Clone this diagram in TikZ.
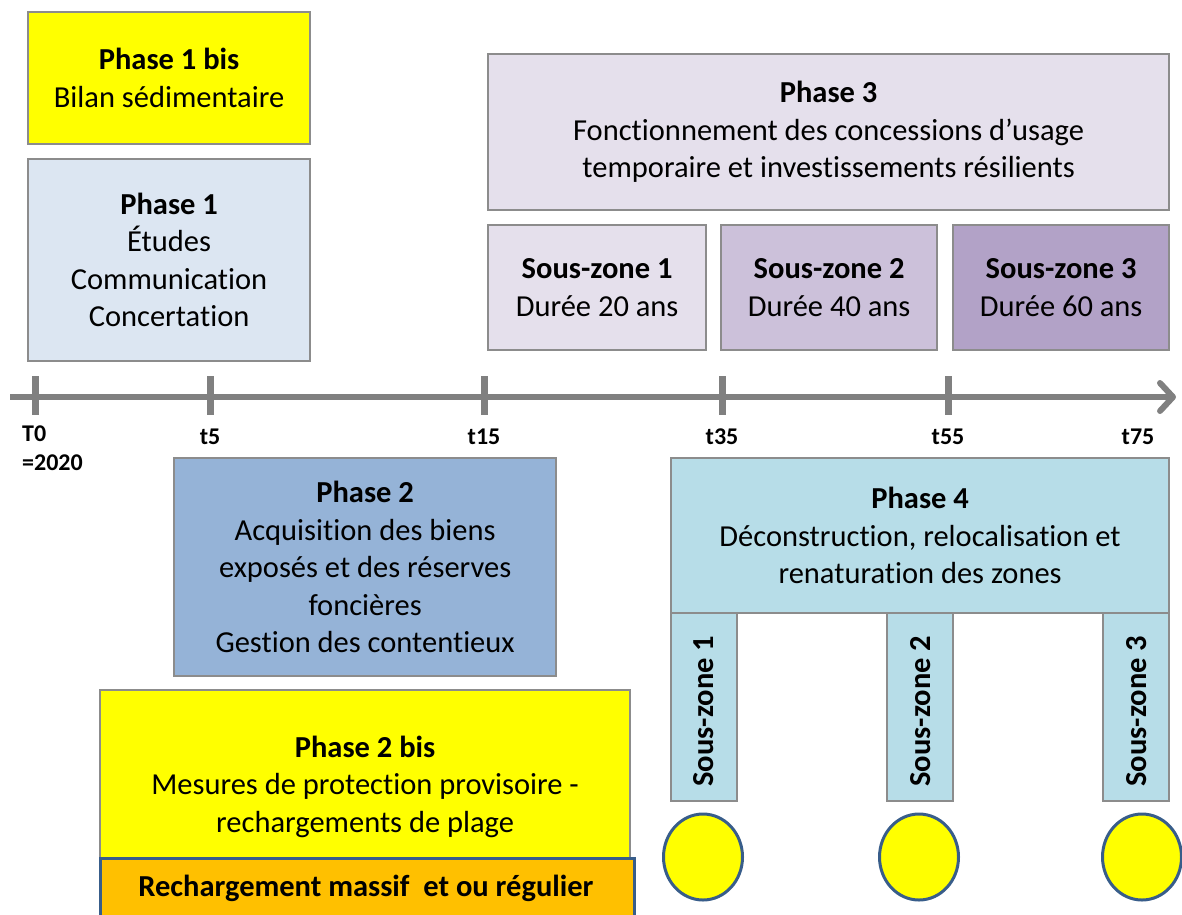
\documentclass[tikz,border=0pt]{standalone}
\usepackage{fontspec}
\setmainfont{Carlito}[Ligatures={NoCommon}]
\usetikzlibrary{arrows.meta,shapes.geometric}
\definecolor{bordergray}{RGB}{140,140,140}
\definecolor{axisgray}{RGB}{128,128,128}
\definecolor{yel}{RGB}{255,255,0}
\definecolor{pone}{RGB}{220,230,242}
\definecolor{ptwo}{RGB}{149,179,215}
\definecolor{pthreea}{RGB}{229,224,236}
\definecolor{pthreeb}{RGB}{204,193,218}
\definecolor{pthreec}{RGB}{178,162,199}
\definecolor{pfour}{RGB}{183,221,232}
\definecolor{orangebox}{RGB}{255,192,0}
\definecolor{darkblue}{RGB}{56,93,138}
\begin{document}
\begin{tikzpicture}[x=1pt,y=-1pt,
  box/.style={draw=bordergray,line width=2.2pt,anchor=north west,inner sep=0pt,align=center,
    font=\fontsize{30.5}{37.5}\selectfont},
  tick/.style={line width=7pt,draw=axisgray},
  ticklabel/.style={font=\fontsize{24}{29}\selectfont\bfseries,inner sep=0pt},
  ell/.style={ellipse,draw=darkblue,line width=3pt,fill=yel,minimum width=79pt,minimum height=86pt,inner sep=0pt}]
\useasboundingbox (0,0) rectangle (1182,914);
% top-left boxes
\node[box,fill=yel,minimum width=282pt,minimum height=132pt] (p1b) at (27,11)
  {\textbf{Phase 1 bis}\\Bilan sédimentaire};
\node[box,fill=pone,minimum width=282pt,minimum height=202pt] (p1) at (27,158)
  {\textbf{Phase 1}\\Études\\Communication\\Concertation};
% phase 3
\node[box,fill=pthreea,minimum width=681pt,minimum height=156pt] (p3) at (487,53)
  {\textbf{Phase 3}\\Fonctionnement des concessions d’usage\\temporaire et investissements résilients};
\node[box,fill=pthreea,minimum width=218pt,minimum height=125pt] (sz1) at (487,224)
  {\textbf{Sous-zone 1}\\Durée 20 ans};
\node[box,fill=pthreeb,minimum width=216pt,minimum height=125pt] (sz2) at (720,224)
  {\textbf{Sous-zone 2}\\Durée 40 ans};
\node[box,fill=pthreec,minimum width=216pt,minimum height=125pt] (sz3) at (952,224)
  {\textbf{Sous-zone 3}\\Durée 60 ans};
% timeline
\coordinate (a0) at (10,397);
\coordinate (a1) at (1176,397);
\draw[line width=6pt,draw=axisgray,-{Straight Barb[length=13pt,width=28pt,line cap=round,line join=round]}] (a0) -- (a1);
\foreach \n/\x in {T0/35,t5/210,t15/484,t35/722,t55/948}{
  \coordinate (k\n) at (\x,376);
  \draw[tick] (k\n) -- ++(0,39);
}
\node[ticklabel,anchor=north west,align=left] (lT0) at (22,426) {T0\\=2020};
\node[ticklabel] (lt5) at (210,437) {t5};
\node[ticklabel] (lt15) at (484,437) {t15};
\node[ticklabel] (lt35) at (722,437) {t35};
\node[ticklabel] (lt55) at (948,437) {t55};
\node[ticklabel] (lt75) at (1138,437) {t75};
% phase 2
\node[box,fill=ptwo,minimum width=382pt,minimum height=218pt] (p2) at (173,457)
  {\textbf{Phase 2}\\Acquisition des biens\\exposés et des réserves\\foncières\\Gestion des contentieux};
% phase 2 bis
\node[box,fill=yel,minimum width=530pt,minimum height=169pt] (p2b) at (99,689) {};
\node[inner sep=0pt,align=center,font=\fontsize{30.5}{37.5}\selectfont] (p2bt) at ([yshift=-12pt]p2b.center)
  {\textbf{Phase 2 bis}\\Mesures de protection provisoire -\\rechargements de plage};
\node[box,draw=darkblue,line width=3pt,fill=orangebox,minimum width=534pt,minimum height=75pt] (rech) at (99,857) {};
\node[inner sep=0pt,font=\fontsize{30.5}{37.5}\selectfont\bfseries] (recht) at (366,888)
  {Rechargement massif\ \ et ou régulier};
% phase 4
\node[box,fill=pfour,minimum width=498pt,minimum height=155pt] (p4) at (670,457)
  {\textbf{Phase 4}\\Déconstruction, relocalisation et\\renaturation des zones};
\foreach \i/\x in {1/670,2/886,3/1102}{
  \node[box,fill=pfour,minimum width=66pt,minimum height=188pt] (v\i) at (\x,612) {};
  \node[rotate=90,inner sep=0pt,font=\fontsize{30.5}{37.5}\selectfont\bfseries] (vt\i) at ([yshift=-4pt]v\i.center) {Sous-zone \i};
}
\node[ell] (c1) at (703,857) {};
\node[ell] (c2) at (919,857) {};
\node[ell] (c3) at (1142,857) {};
\end{tikzpicture}
\end{document}
